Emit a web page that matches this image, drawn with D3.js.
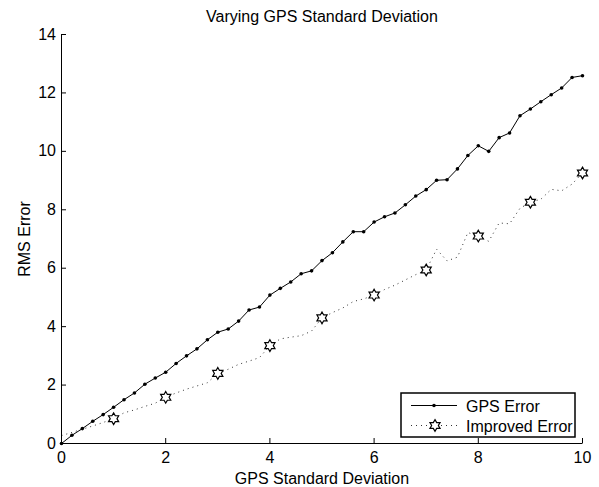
<!DOCTYPE html>
<html>
<head>
<meta charset="utf-8">
<script src="https://cdn.jsdelivr.net/npm/d3@7/dist/d3.min.js"></script>
<style>
	body { margin: 0; background: #fff; }
	svg { display: block; font-family: "Liberation Sans", Arial, Helvetica, sans-serif; }
</style>
</head>
<body>
<svg id="chart"></svg>
<script>
/*
 * RMS error against GPS standard deviation, matlab-ish look
 */

// x values of the sweep (GPS standard deviation)
const sigma = [0, 0.2, 0.4, 0.6, 0.8, 1, 1.2, 1.4, 1.6, 1.8,
	2, 2.2, 2.4, 2.6, 2.8, 3, 3.2, 3.4, 3.6, 3.8,
	4, 4.2, 4.4, 4.6, 4.8, 5, 5.2, 5.4, 5.6, 5.8,
	6, 6.2, 6.4, 6.6, 6.8, 7, 7.2, 7.4, 7.6, 7.8,
	8, 8.2, 8.4, 8.6, 8.8, 9, 9.2, 9.4, 9.6, 9.8, 10];

const gpsError = [0, 0.28, 0.51, 0.76, 0.99, 1.24, 1.50, 1.73, 2.03, 2.24,
	2.44, 2.74, 3.00, 3.24, 3.55, 3.81, 3.92, 4.19, 4.57, 4.67,
	5.08, 5.31, 5.53, 5.81, 5.91, 6.26, 6.53, 6.90, 7.25, 7.25,
	7.58, 7.76, 7.89, 8.17, 8.47, 8.69, 9.01, 9.03, 9.40, 9.86,
	10.19, 10.00, 10.47, 10.63, 11.22, 11.45, 11.70, 11.94, 12.17, 12.53, 12.59];

// dotted line of the improved error
const improvedError = [0.27, 0.38, 0.49, 0.60, 0.72, 0.85, 1.05, 1.15, 1.27, 1.38,
	1.58, 1.73, 1.86, 1.97, 2.08, 2.40, 2.54, 2.71, 2.82, 2.94,
	3.35, 3.58, 3.64, 3.69, 3.85, 4.30, 4.48, 4.64, 4.86, 4.95,
	5.08, 5.27, 5.42, 5.60, 5.78, 5.94, 6.65, 6.25, 6.38, 7.22,
	7.10, 6.92, 7.55, 7.52, 8.05, 8.26, 8.36, 8.70, 8.65, 8.88, 9.26];

// hexagram markers only on whole numbers
const markerSigma = [1, 2, 3, 4, 5, 6, 7, 8, 9, 10];
const improvedMarkers = [0.85, 1.58, 2.40, 3.35, 4.30, 5.08, 5.94, 7.10, 8.26, 9.26];

const xTicks = [0, 2, 4, 6, 8, 10];
const yTicks = [0, 2, 4, 6, 8, 10, 12, 14];
const seriesNames = ['GPS Error', 'Improved Error'];

const chartTitle = 'Varying GPS Standard Deviation';
const xTitle = 'GPS Standard Deviation';
const yTitle = 'RMS Error';


// six pointed star, size is used as outer radius squared
const hexagram = {
	draw(context, size) {
		let r = Math.sqrt(size),
			inner = r / Math.sqrt(3);
		for (let i = 0; i < 12; i++) {
			let a = -Math.PI / 2 + i * Math.PI / 6,
				rr = (i % 2) ? inner : r;
			if (i === 0) {
				context.moveTo(rr * Math.cos(a), rr * Math.sin(a));
			} else {
				context.lineTo(rr * Math.cos(a), rr * Math.sin(a));
			}
		}
		context.closePath();
	}
};


class RmsErrorChart {

	constructor(chartSelector, options) {
		let defaults = {
			width: 599,
			height: 487,
			margin: {
				top: 34,
				left: 61,
				bottom: 43,
				right: 17
			},
			fontSize: 16,
			dotRadius: 1.8,
			starSize: 34
		};
		this.settings = Object.assign({}, defaults, options);
		this.chart = d3.select(chartSelector)
			.attr('width', this.settings.width)
			.attr('height', this.settings.height);

		this.createChart();
	}


	_createScales() {
		let s = this.settings;
		// axis adds 0.5 itself, so lines end up on pixel centres
		this.x = d3.scaleLinear()
			.domain([0, 10])
			.range([s.margin.left, s.width - s.margin.right]);
		this.y = d3.scaleLinear()
			.domain([0, 14])
			.range([s.height - s.margin.bottom - 1, s.margin.top]);
	}


	_createAxes() {
		let s = this.settings;

		let xAxis = d3.axisBottom(this.x)
			.tickValues(xTicks)
			.tickSizeInner(-5)
			.tickSizeOuter(0)
			.tickPadding(9);

		let yAxis = d3.axisLeft(this.y)
			.tickValues(yTicks)
			.tickSizeInner(-5)
			.tickSizeOuter(0)
			.tickPadding(5);

		this.chart.append('g')
			.attr('class', 'axis axis--x')
			.attr('transform', 'translate(0,' + this.y(0) + ')')
			.call(xAxis);

		this.chart.append('g')
			.attr('class', 'axis axis--y')
			.attr('transform', 'translate(' + this.x(0) + ',0)')
			.call(yAxis);

		this.chart.selectAll('.axis')
			.attr('font-size', s.fontSize)
			.attr('font-family', null);
		this.chart.selectAll('.axis path, .axis line')
			.attr('stroke', '#000')
			.attr('stroke-width', 1);
		this.chart.selectAll('.axis text')
			.attr('fill', '#000');
	}


	_addTitles() {
		let s = this.settings,
			midX = (this.x(0) + this.x(10)) / 2 + 0.5,
			midY = (this.y(0) + this.y(14)) / 2 + 0.5;

		this.chart.append('text')
			.attr('x', midX)
			.attr('y', 21.5)
			.attr('text-anchor', 'middle')
			.attr('font-size', s.fontSize)
			.text(chartTitle);

		this.chart.append('text')
			.attr('x', midX)
			.attr('y', 484)
			.attr('text-anchor', 'middle')
			.attr('font-size', s.fontSize)
			.text(xTitle);

		this.chart.append('text')
			.attr('transform', 'translate(29.5,' + midY + ') rotate(-90)')
			.attr('text-anchor', 'middle')
			.attr('font-size', s.fontSize)
			.text(yTitle);
	}


	_addSeries() {
		let s = this.settings,
			g = this.chart.append('g').attr('transform', 'translate(0.5,0.5)');

		let lineGen = d3.line()
			.x((d, i) => this.x(sigma[i]))
			.y((d) => this.y(d));

		g.append('path')
			.datum(improvedError)
			.attr('fill', 'none')
			.attr('stroke', '#333')
			.attr('stroke-width', 1)
			.attr('stroke-dasharray', '1,4')
			.attr('d', lineGen);

		g.append('path')
			.datum(gpsError)
			.attr('fill', 'none')
			.attr('stroke', '#000')
			.attr('stroke-width', 1)
			.attr('d', lineGen);

		g.selectAll('.gps-dot')
			.data(gpsError)
			.enter()
			.append('circle')
			.attr('class', 'gps-dot')
			.attr('cx', (d, i) => this.x(sigma[i]))
			.attr('cy', (d) => this.y(d))
			.attr('r', s.dotRadius)
			.attr('fill', '#000');

		let star = d3.symbol().type(hexagram).size(s.starSize);

		g.selectAll('.star')
			.data(improvedMarkers)
			.enter()
			.append('path')
			.attr('class', 'star')
			.attr('transform', (d, i) => 'translate(' + this.x(markerSigma[i]) + ',' + this.y(d) + ')')
			.attr('d', star)
			.attr('fill', '#fff')
			.attr('stroke', '#000')
			.attr('stroke-width', 1.2);
	}


	_addLegend() {
		let s = this.settings,
			box = { x: 401, y: 393, w: 174, h: 44 },
			legend = this.chart.append('g').attr('class', 'legend');

		legend.append('rect')
			.attr('x', box.x)
			.attr('y', box.y)
			.attr('width', box.w)
			.attr('height', box.h)
			.attr('fill', '#fff')
			.attr('stroke', '#000')
			.attr('stroke-width', 1.5);

		seriesNames.forEach((name, i) => {
			let cy = box.y + 12.5 + i * 20,
				row = legend.append('g');

			row.append('line')
				.attr('x1', box.x + 10)
				.attr('x2', box.x + 56)
				.attr('y1', cy)
				.attr('y2', cy)
				.attr('stroke', i ? '#333' : '#000')
				.attr('stroke-dasharray', i ? '1,4' : null);

			if (i === 0) {
				row.append('circle')
					.attr('cx', box.x + 33)
					.attr('cy', cy)
					.attr('r', s.dotRadius)
					.attr('fill', '#000');
			} else {
				row.append('path')
					.attr('transform', 'translate(' + (box.x + 34) + ',' + cy + ')')
					.attr('d', d3.symbol().type(hexagram).size(s.starSize)())
					.attr('fill', '#fff')
					.attr('stroke', '#000')
					.attr('stroke-width', 1.2);
			}

			row.append('text')
				.attr('x', box.x + 65)
				.attr('y', cy + 6)
				.attr('font-size', s.fontSize)
				.text(name);
		});
	}


	createChart() {
		this._createScales();
		this._addSeries();
		this._createAxes();
		this._addTitles();
		this._addLegend();
	}
}

new RmsErrorChart('#chart');
</script>
</body>
</html>
